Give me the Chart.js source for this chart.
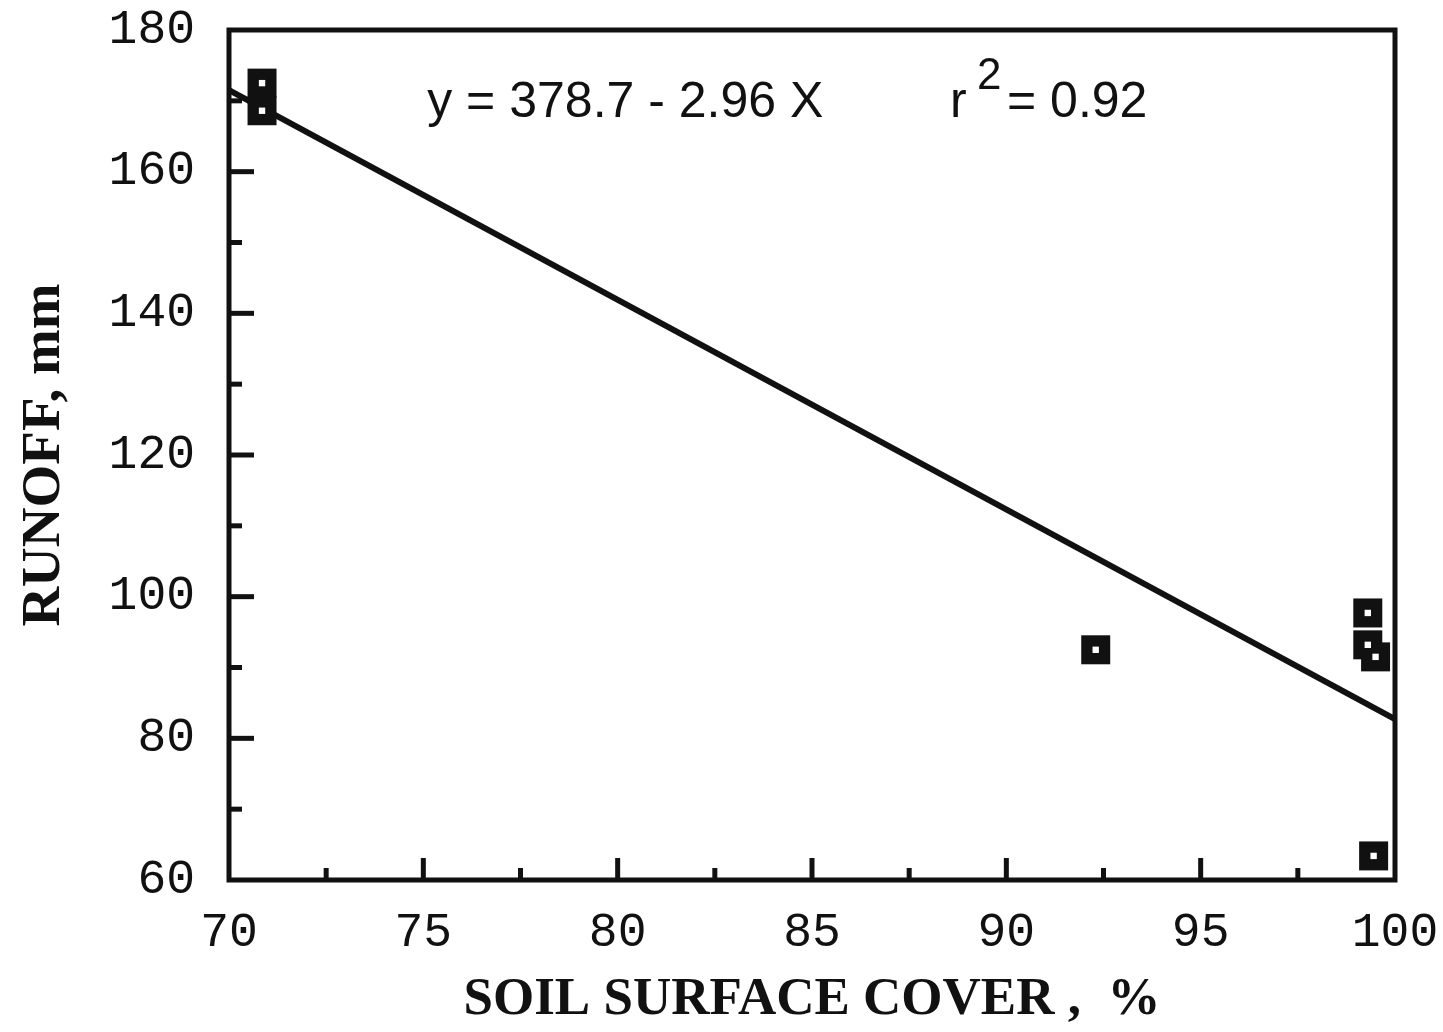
<!DOCTYPE html>
<html>
<head>
<meta charset="utf-8">
<script src="https://cdn.jsdelivr.net/npm/chart.js@4/dist/chart.umd.min.js"></script>
<style>
html,body{margin:0;padding:0;background:#fff;}
#wrap{width:1443px;height:1032px;position:relative;}
</style>
</head>
<body>
<div id="wrap"><canvas id="c" width="1443" height="1032"></canvas></div>
<script>
// Data
const coverPct = [70.85, 70.85, 92.3, 99.3, 99.3, 99.5, 99.45];
const runoffMm = [172.5, 168.6, 92.5, 97.7, 93.2, 91.5, 63.4];
const fitX = [70, 100];
const fitY = [171.5, 82.7];
const xTicks = [70, 75, 80, 85, 90, 95, 100];
const yTicks = [60, 80, 100, 120, 140, 160, 180];
const xMinorTicks = [72.5, 77.5, 82.5, 87.5, 92.5, 97.5];
const yMinorTicks = [70, 90, 110, 130, 150, 170];
const equationText = "y = 378.7 - 2.96 X";
const r2Text = "= 0.92";

const pts = coverPct.map((x, i) => ({x: x, y: runoffMm[i]}));
const linePts = fitX.map((x, i) => ({x: x, y: fitY[i]}));

const framePlugin = {
  id: 'frame',
  beforeDatasetsDraw(chart) {
    const {ctx, chartArea: a, scales} = chart;
    ctx.save();
    ctx.strokeStyle = '#111';
    ctx.lineCap = 'butt';
    ctx.lineWidth = 5;
    const xs = scales.x, ys = scales.y;
    xTicks.forEach(v => {
      if (v === xs.min || v === xs.max) return;
      const px = xs.getPixelForValue(v);
      ctx.beginPath(); ctx.moveTo(px, a.bottom); ctx.lineTo(px, a.bottom - 22); ctx.stroke();
    });
    xMinorTicks.forEach(v => {
      const px = xs.getPixelForValue(v);
      ctx.beginPath(); ctx.moveTo(px, a.bottom); ctx.lineTo(px, a.bottom - 12); ctx.stroke();
    });
    yTicks.forEach(v => {
      if (v === ys.min || v === ys.max) return;
      const py = ys.getPixelForValue(v);
      ctx.beginPath(); ctx.moveTo(a.left, py); ctx.lineTo(a.left + 25, py); ctx.stroke();
    });
    yMinorTicks.forEach(v => {
      const py = ys.getPixelForValue(v);
      ctx.beginPath(); ctx.moveTo(a.left, py); ctx.lineTo(a.left + 13, py); ctx.stroke();
    });
    ctx.restore();
  },
  afterDraw(chart) {
    const {ctx, chartArea: a, scales} = chart;
    ctx.save();
    ctx.strokeStyle = '#111';
    ctx.lineWidth = 5;
    ctx.strokeRect(a.left, a.top, a.right - a.left, a.bottom - a.top);
    ctx.fillStyle = '#111';
    ctx.textBaseline = 'alphabetic';
    ctx.textAlign = 'left';
    const xs = scales.x, ys = scales.y;
    const bx = xs.getPixelForValue(75.1);
    const by = ys.getPixelForValue(167.7);
    ctx.font = '50px "Liberation Sans", Arial, sans-serif';
    ctx.fillText(equationText, bx, by);
    const rx = xs.getPixelForValue(88.55);
    ctx.fillText('r', rx, by);
    ctx.font = '44px "Liberation Sans", Arial, sans-serif';
    ctx.fillText('2', rx + 27, by - 28);
    ctx.font = '50px "Liberation Sans", Arial, sans-serif';
    ctx.fillText(r2Text, rx + 57, by);
    ctx.restore();
  }
};

new Chart(document.getElementById('c'), {
  type: 'scatter',
  data: {
    datasets: [
      {
        type: 'line',
        data: linePts,
        borderColor: '#111',
        borderWidth: 6,
        pointRadius: 0,
        fill: false,
        order: 3
      },
      {
        data: pts,
        pointStyle: 'rect',
        pointRadius: 20.5,
        backgroundColor: '#111',
        borderColor: '#111',
        borderWidth: 0,
        order: 2
      },
      {
        data: pts,
        pointStyle: 'rect',
        pointRadius: 4.5,
        backgroundColor: '#fff',
        borderColor: '#fff',
        borderWidth: 0,
        order: 1
      }
    ]
  },
  options: {
    responsive: false,
    animation: false,
    devicePixelRatio: 1,
    layout: {padding: {left: 0, top: 30, right: 48, bottom: 0}},
    plugins: {legend: {display: false}, tooltip: {enabled: false}},
    scales: {
      x: {
        type: 'linear', min: 70, max: 100,
        afterBuildTicks: s => { s.ticks = xTicks.map(v => ({value: v})); },
        grid: {display: false, drawTicks: false},
        border: {display: false},
        ticks: {color: '#111', padding: 24, font: {family: '"Liberation Mono", "DejaVu Sans Mono", monospace', size: 48}, maxRotation: 0},
        title: {display: true, text: 'SOIL SURFACE COVER ,  %', color: '#111', padding: {top: 4, bottom: 0},
          font: {family: '"Liberation Serif", "Times New Roman", serif', size: 53, weight: 'bold'}},
        afterFit: s => { s.height = 152; s.paddingLeft = 0; s.paddingRight = 0; }
      },
      y: {
        type: 'linear', min: 60, max: 180,
        afterBuildTicks: s => { s.ticks = yTicks.map(v => ({value: v})); },
        grid: {display: false, drawTicks: false},
        border: {display: false},
        ticks: {color: '#111', padding: 34, font: {family: '"Liberation Mono", "DejaVu Sans Mono", monospace', size: 48}},
        title: {display: true, text: 'RUNOFF, mm', color: '#111', padding: {top: 12, bottom: 0},
          font: {family: '"Liberation Serif", "Times New Roman", serif', size: 55, weight: 'bold'}},
        afterFit: s => { s.width = 229; s.paddingTop = 0; s.paddingBottom = 0; }
      }
    }
  },
  plugins: [framePlugin]
});
</script>
</body>
</html>
